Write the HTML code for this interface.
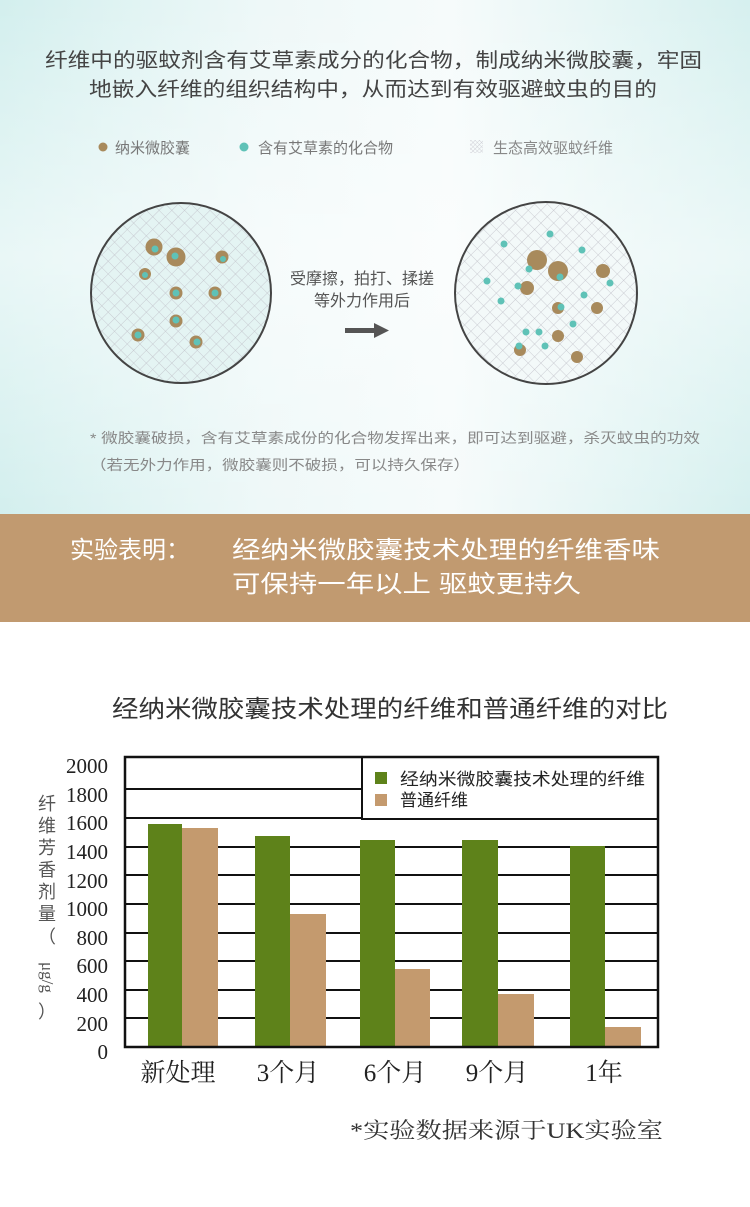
<!DOCTYPE html>
<html><head><meta charset="utf-8"><style>
html,body{margin:0;padding:0;background:#fff}
svg{display:block}
text{font-family:"Liberation Sans","Noto Sans CJK SC",sans-serif}
.s{font-family:"Liberation Serif","Noto Serif CJK SC",serif}
</style></head><body>
<svg width="750" height="1207" viewBox="0 0 750 1207" xmlns="http://www.w3.org/2000/svg">
<defs>
<linearGradient id="bg" x1="0" y1="0" x2="1" y2="0">
<stop offset="0" stop-color="#d3efee"/><stop offset="0.35" stop-color="#eef8f8"/><stop offset="0.6" stop-color="#f6fbfb"/><stop offset="1" stop-color="#d6f0ef"/>
</linearGradient>
<linearGradient id="bg2" x1="0" y1="0" x2="0" y2="1">
<stop offset="0" stop-color="#fff" stop-opacity="0"/><stop offset="0.5" stop-color="#fff" stop-opacity="0.5"/><stop offset="1" stop-color="#fff" stop-opacity="0"/>
</linearGradient>
<pattern id="hatch" width="9" height="9" patternUnits="userSpaceOnUse" patternTransform="rotate(45)">
<path d="M0 0H9M0 0V9" stroke="#bfbfc8" stroke-width="0.8" fill="none"/>
</pattern>
<pattern id="hatch2" width="3" height="3" patternUnits="userSpaceOnUse" patternTransform="rotate(45)">
<path d="M0 0H3M0 0V3" stroke="#c8c8d0" stroke-width="0.8" fill="none"/>
</pattern>
<clipPath id="c1"><circle cx="181" cy="293" r="90"/></clipPath>
<clipPath id="c2"><circle cx="546" cy="293" r="91"/></clipPath>
</defs>
<rect x="0" y="0" width="750" height="514" fill="url(#bg)"/>
<rect x="0" y="0" width="750" height="514" fill="url(#bg2)"/>

<text x="45" y="67" font-size="20" fill="#444" textLength="657" lengthAdjust="spacingAndGlyphs">纤维中的驱蚊剂含有艾草素成分的化合物，制成纳米微胶囊，牢固</text>
<text x="89" y="96" font-size="20" fill="#444" textLength="568" lengthAdjust="spacingAndGlyphs">地嵌入纤维的组织结构中，从而达到有效驱避蚊虫的目的</text>

<circle cx="103" cy="147" r="4.5" fill="#a88a5c"/>
<text x="115" y="153" font-size="15" fill="#777">纳米微胶囊</text>
<circle cx="244" cy="147" r="4.5" fill="#5fc2b7"/>
<text x="258" y="153" font-size="15" fill="#777">含有艾草素的化合物</text>
<rect x="470" y="140" width="13" height="13" fill="url(#hatch2)"/>
<text x="493" y="153" font-size="15" fill="#888">生态高效驱蚊纤维</text>

<circle cx="181" cy="293" r="90" fill="#e4f4f3"/>
<rect x="80" y="190" width="210" height="210" fill="url(#hatch)" clip-path="url(#c1)"/>
<circle cx="181" cy="293" r="90" fill="none" stroke="#444" stroke-width="2"/>
<g fill="#a88a5c">
<circle cx="154" cy="247" r="8.5"/><circle cx="176" cy="257" r="9.5"/><circle cx="222" cy="257" r="6.5"/>
<circle cx="145" cy="274" r="6"/><circle cx="176" cy="293" r="6.5"/><circle cx="215" cy="293" r="6.5"/>
<circle cx="176" cy="321" r="6.5"/><circle cx="138" cy="335" r="6.5"/><circle cx="196" cy="342" r="6.5"/>
</g>
<g fill="#5fc2b7">
<circle cx="155" cy="249" r="3.5"/><circle cx="175" cy="256" r="3.5"/><circle cx="223" cy="259" r="3"/>
<circle cx="145" cy="275" r="3"/><circle cx="176" cy="293" r="3.5"/><circle cx="215" cy="293" r="3.5"/>
<circle cx="176" cy="320" r="3.5"/><circle cx="138" cy="335" r="3.5"/><circle cx="197" cy="342" r="3.5"/>
</g>

<text x="362" y="284" font-size="16" fill="#555" text-anchor="middle">受摩擦，拍打、揉搓</text>
<text x="362" y="306" font-size="16" fill="#555" text-anchor="middle">等外力作用后</text>
<rect x="345" y="328" width="30" height="5" fill="#555"/>
<polygon points="374,323 389,330.5 374,338" fill="#555"/>

<circle cx="546" cy="293" r="91" fill="#f3f9f9"/>
<rect x="450" y="190" width="200" height="210" fill="url(#hatch)" clip-path="url(#c2)"/>
<circle cx="546" cy="293" r="91" fill="none" stroke="#444" stroke-width="2"/>
<g fill="#a88a5c">
<circle cx="537" cy="260" r="10"/><circle cx="558" cy="271" r="10"/><circle cx="603" cy="271" r="7"/>
<circle cx="527" cy="288" r="7"/><circle cx="558" cy="308" r="6"/><circle cx="597" cy="308" r="6"/>
<circle cx="558" cy="336" r="6"/><circle cx="520" cy="350" r="6"/><circle cx="577" cy="357" r="6"/>
</g>
<g fill="#5fc2b7">
<circle cx="550" cy="234" r="3.5"/><circle cx="504" cy="244" r="3.5"/><circle cx="582" cy="250" r="3.5"/>
<circle cx="529" cy="269" r="3.5"/><circle cx="560" cy="277" r="3.5"/><circle cx="487" cy="281" r="3.5"/>
<circle cx="610" cy="283" r="3.5"/><circle cx="518" cy="286" r="3.5"/><circle cx="584" cy="295" r="3.5"/>
<circle cx="501" cy="301" r="3.5"/><circle cx="561" cy="307" r="3.5"/><circle cx="573" cy="324" r="3.5"/>
<circle cx="526" cy="332" r="3.5"/><circle cx="539" cy="332" r="3.5"/><circle cx="545" cy="346" r="3.5"/>
<circle cx="519" cy="346" r="3.5"/>
</g>

<text x="90" y="443" font-size="14" fill="#888" textLength="610" lengthAdjust="spacingAndGlyphs">* 微胶囊破损，含有艾草素成份的化合物发挥出来，即可达到驱避，杀灭蚊虫的功效</text>
<text x="90" y="470" font-size="14" fill="#888" textLength="380" lengthAdjust="spacingAndGlyphs">（若无外力作用，微胶囊则不破损，可以持久保存）</text>

<rect x="0" y="514" width="750" height="108" fill="#c19a70"/>
<text x="70" y="558" font-size="24" fill="#fff">实验表明：</text>
<text x="232" y="558" font-size="24" fill="#fff" textLength="428" lengthAdjust="spacingAndGlyphs">经纳米微胶囊技术处理的纤维香味</text>
<text x="232" y="592" font-size="24" fill="#fff" textLength="349" lengthAdjust="spacingAndGlyphs">可保持一年以上 驱蚊更持久</text>

<text x="112" y="717" font-size="24" fill="#333" textLength="556" lengthAdjust="spacingAndGlyphs">经纳米微胶囊技术处理的纤维和普通纤维的对比</text>

<g stroke="#111" stroke-width="2">
<line x1="125" y1="789" x2="658" y2="789"/><line x1="125" y1="818" x2="658" y2="818"/>
<line x1="125" y1="847" x2="658" y2="847"/><line x1="125" y1="875" x2="658" y2="875"/>
<line x1="125" y1="904" x2="658" y2="904"/><line x1="125" y1="933" x2="658" y2="933"/>
<line x1="125" y1="961" x2="658" y2="961"/><line x1="125" y1="990" x2="658" y2="990"/>
<line x1="125" y1="1018" x2="658" y2="1018"/>
</g>
<g fill="#5e821a">
<rect x="148" y="824" width="34" height="223"/><rect x="255" y="836" width="35" height="211"/>
<rect x="360" y="840" width="35" height="207"/><rect x="462" y="840" width="36" height="207"/>
<rect x="570" y="846" width="35" height="201"/>
</g>
<g fill="#c49a6e">
<rect x="182" y="828" width="36" height="219"/><rect x="290" y="914" width="36" height="133"/>
<rect x="395" y="969" width="35" height="78"/><rect x="498" y="994" width="36" height="53"/>
<rect x="605" y="1027" width="36" height="20"/>
</g>
<rect x="362" y="757" width="296" height="62" fill="#fff" stroke="#111" stroke-width="2"/>
<rect x="125" y="757" width="533" height="290" fill="none" stroke="#111" stroke-width="2.5"/>
<rect x="375" y="772" width="12" height="12" fill="#5e821a"/>
<rect x="375" y="794" width="12" height="12" fill="#c49a6e"/>
<text x="400" y="785" font-size="17" fill="#222" textLength="245" lengthAdjust="spacingAndGlyphs">经纳米微胶囊技术处理的纤维</text>
<text x="400" y="806" font-size="17" fill="#222">普通纤维</text>

<g font-size="21" fill="#222" text-anchor="end">
<text class="s" x="108" y="773">2000</text><text class="s" x="108" y="802">1800</text>
<text class="s" x="108" y="830">1600</text><text class="s" x="108" y="859">1400</text>
<text class="s" x="108" y="888">1200</text><text class="s" x="108" y="916">1000</text>
<text class="s" x="108" y="945">800</text><text class="s" x="108" y="973">600</text>
<text class="s" x="108" y="1002">400</text><text class="s" x="108" y="1031">200</text>
<text class="s" x="108" y="1059">0</text>
</g>
<g font-size="18" fill="#555" text-anchor="middle">
<text x="47" y="810">纤</text><text x="47" y="832">维</text><text x="47" y="854">芳</text>
<text x="47" y="876">香</text><text x="47" y="898">剂</text><text x="47" y="920">量</text>
<text x="47" y="943">（</text>
<text x="0" y="0" font-size="17" transform="translate(42,962) rotate(90)" text-anchor="start" class="s">μg/g</text>
<text x="47" y="1018">）</text>
</g>

<g font-size="25" fill="#222" text-anchor="middle">
<text class="s" x="178" y="1081">新处理</text><text class="s" x="288" y="1081">3个月</text>
<text class="s" x="395" y="1081">6个月</text><text class="s" x="497" y="1081">9个月</text>
<text class="s" x="604" y="1081">1年</text>
</g>
<text class="s" x="350" y="1138" font-size="22" fill="#333" textLength="313" lengthAdjust="spacingAndGlyphs">*实验数据来源于UK实验室</text>
</svg>
</body></html>
